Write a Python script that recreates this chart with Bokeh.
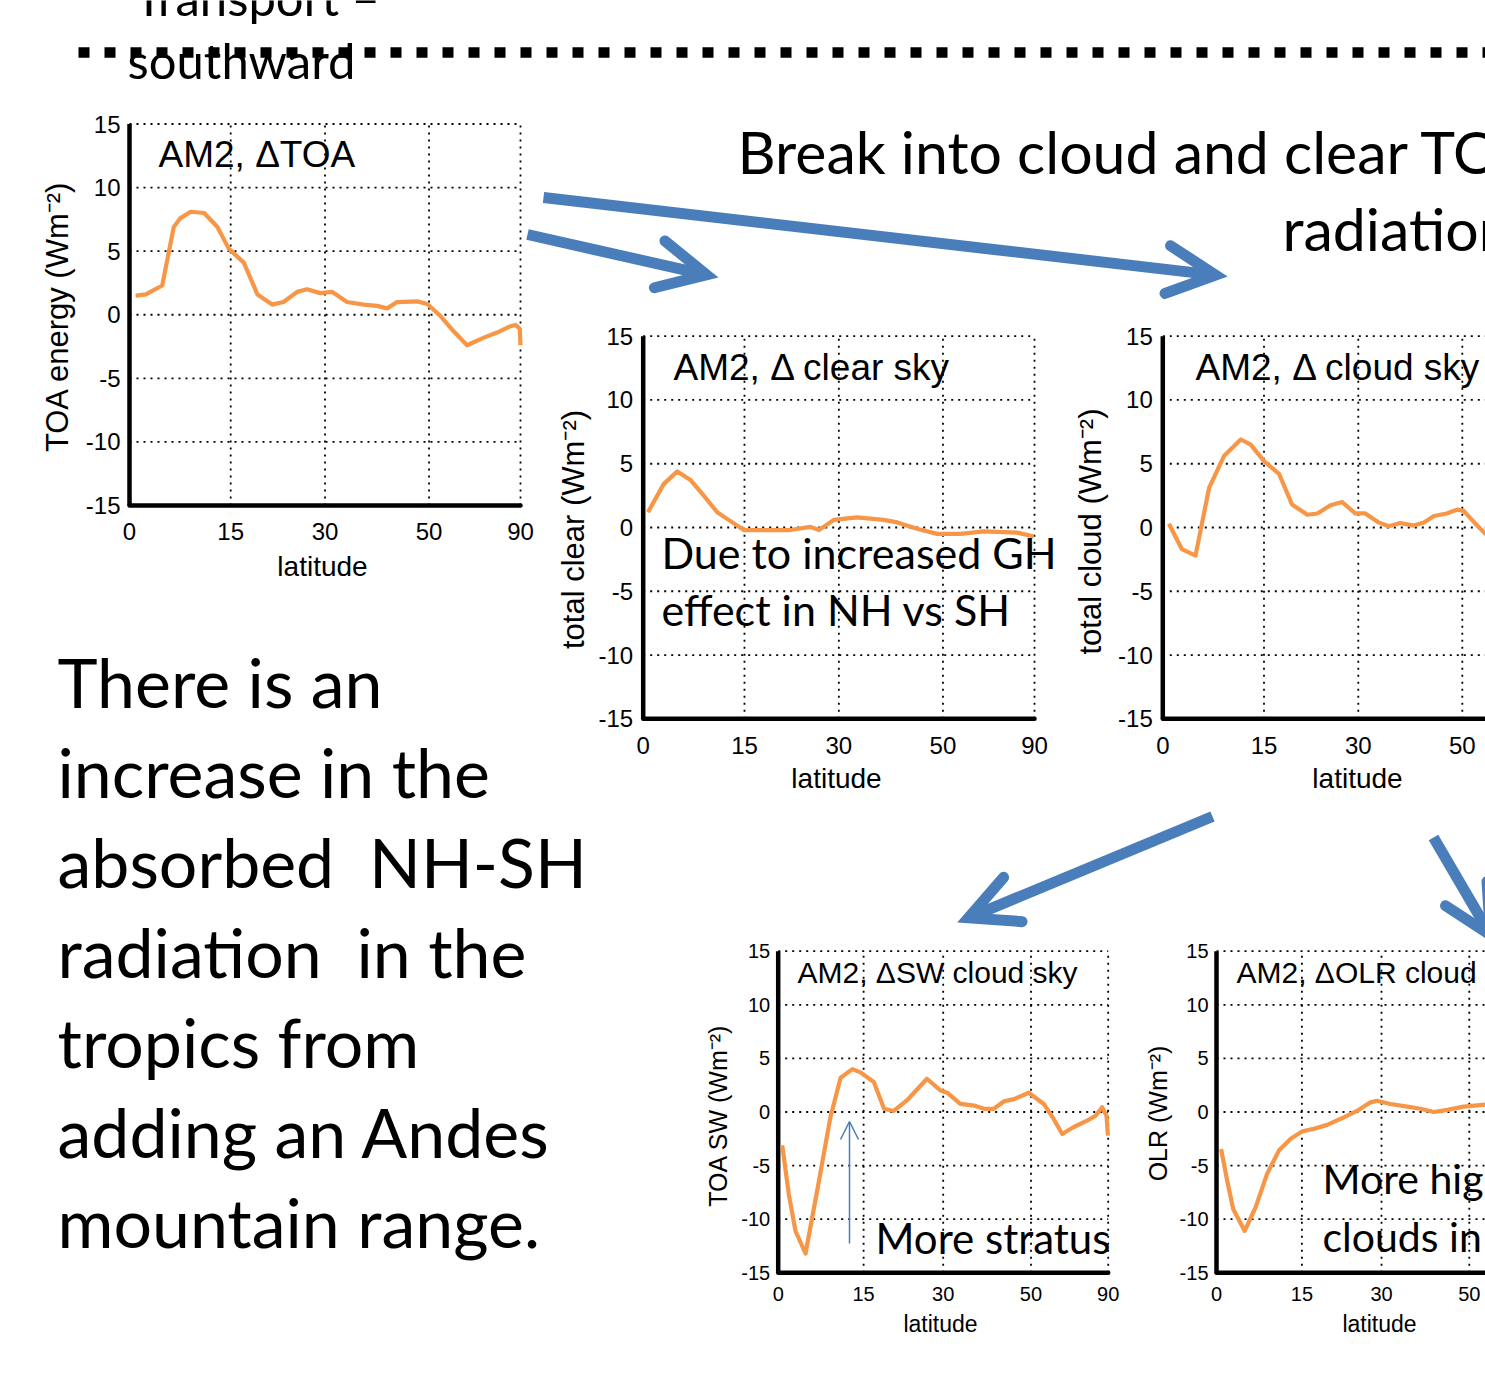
import numpy as np
from bokeh.plotting import figure
from bokeh.models import Range1d, Arrow, OpenHead
from bokeh.core.properties import value
from bokeh.embed import file_html
from bokeh.resources import INLINE

W, H = 1485, 1380

# ---------------- data ----------------
lat_ticks = [0, 15, 30, 50, 90]
lat_tick_labels = ["0", "15", "30", "50", "90"]
val_ticks = [-15, -10, -5, 0, 5, 10, 15]
val_tick_labels = ["-15", "-10", "-5", "0", "5", "10", "15"]

toa_lat = [0.9, 2.4, 4.8, 6.5, 7.5, 9.0, 11.0, 13.0, 14.7, 17.0, 19.1, 21.4, 23.2, 25.4, 27.0, 29.2,
           31.2, 33.8, 36.8, 39.3, 41.2, 43.2, 47.4, 49.6, 52.7, 56.0, 59.7, 65.0, 70.1, 77.0, 80.8,
           86.6, 89.5]
toa_val = [1.5, 1.6, 2.3, 6.9, 7.6, 8.1, 8.0, 6.9, 5.2, 4.1, 1.6, 0.8, 1.0, 1.8, 2.0, 1.7,
           1.8, 1.0, 0.8, 0.7, 0.5, 1.0, 1.05, 0.85, -0.1, -1.3, -2.4, -1.8, -1.4, -0.9, -0.8,
           -1.1, -2.4]

clear_lat = [0.7, 3.0, 5.0, 7.0, 8.9, 10.9, 12.9, 14.9, 18.5, 22.1, 25.3, 26.7, 29.2, 33.1, 37.9,
             40.5, 44.4, 48.7, 54.2, 60.5, 72.9, 86.9]
clear_val = [1.2, 3.4, 4.4, 3.7, 2.5, 1.2, 0.5, -0.2, -0.2, -0.2, 0.05, -0.2, 0.6, 0.8, 0.6,
             0.4, -0.1, -0.5, -0.5, -0.3, -0.4, -0.7]

cloud_lat = [0.9, 2.8, 4.8, 6.8, 9.0, 11.5, 13.0, 15.0, 17.3, 19.3, 21.7, 23.3, 25.4, 27.3, 29.5,
             31.2, 33.5, 35.3, 37.4, 39.9, 41.9, 43.9, 46.6, 48.8, 50.3, 53.1, 55.6, 57.5]
cloud_val = [0.3, -1.7, -2.2, 3.1, 5.6, 6.9, 6.5, 5.2, 4.2, 1.8, 1.0, 1.1, 1.75, 2.0, 1.1,
             1.1, 0.4, 0.1, 0.35, 0.15, 0.4, 0.9, 1.1, 1.4, 1.3, 0.3, -0.5, -0.9]

sw_lat = [0.7, 1.85, 3.0, 4.75, 6.8, 9.1, 10.9, 13.0, 14.45, 16.85, 18.7, 20.5, 23.0, 26.8, 29.5,
          30.8, 33.5, 36.4, 38.6, 40.8, 43.2, 45.6, 49.4, 53.6, 56.6, 59.4, 63.6, 69.4, 74.1,
          79.0, 84.2, 87.5]
sw_val = [-3.1, -7.7, -11.1, -13.2, -7.3, -0.5, 3.2, 4.0, 3.7, 2.8, 0.3, 0.1, 1.1, 3.1, 2.0,
          1.8, 0.75, 0.6, 0.3, 0.3, 1.0, 1.2, 1.8, 0.75, -0.65, -2.05, -1.4, -0.8, -0.35,
          0.45, -0.35, -2.2]

olr_lat = [0.8, 1.85, 2.9, 4.9, 6.8, 8.8, 10.9, 13.0, 15.1, 16.9, 19.6, 22.7, 25.2, 27.8, 29.1,
           31.8, 35.3, 38.2, 41.2, 44.4, 48.5, 54.6]
olr_val = [-3.45, -6.4, -9.05, -11.1, -8.9, -5.8, -3.6, -2.5, -1.8, -1.6, -1.2, -0.5, 0.1, 0.9,
           1.05, 0.75, 0.5, 0.3, 0.0, 0.2, 0.5, 0.7]

left_lines = ["There is an", "increase in the", "absorbed\u00a0 NH-SH", "radiation\u00a0 in the",
              "tropics from", "adding an Andes", "mountain range."]

# ---------------- canvas ----------------
p = figure(width=W, height=H, x_range=Range1d(0, W), y_range=Range1d(H, 0),
           x_axis_type=None, y_axis_type=None, toolbar_location=None,
           output_backend="svg", min_border=0, outline_line_color=None,
           background_fill_color="white", border_fill_color="white")

PANEL_FONT = value("Liberation Sans")
BIG_FONT = value("Lato")
ORANGE = "#f79646"
BLUE = "#4a7ebb"
BASE_SHIFT = 0.42  # renderer places alphabetic baseline ~0.42 em lower; compensate


def yb(baseline, fs):
    return baseline - BASE_SHIFT * fs


def sinlat(a):
    return list(np.sin(np.radians(np.asarray(a, dtype=float))))


panels = [
    dict(name="p1", x0=129.0, top=123.5, w=391.0, h=381.5, lat=toa_lat, val=toa_val,
         title="AM2, \u0394TOA", tpos=(158, 170), tfs=37,
         ylabel="TOA energy (Wm\u207b\u00b2)", ypos=(57, 316), yfs=31,
         xpos=(322, 578), xfs=28, tickfs=24, yoff=-9, xoff=26),
    dict(name="p2", x0=642.7, top=335.7, w=391.3, h=382.6, lat=clear_lat, val=clear_val,
         title="AM2, \u0394 clear sky", tpos=(673, 383), tfs=37,
         ylabel="total clear (Wm\u207b\u00b2)", ypos=(573, 529), yfs=31,
         xpos=(836, 790), xfs=28, tickfs=24, yoff=-10, xoff=27),
    dict(name="p3", x0=1162.3, top=335.7, w=391.0, h=382.6, lat=cloud_lat, val=cloud_val,
         title="AM2, \u0394 cloud sky", tpos=(1195, 383), tfs=37,
         ylabel="total cloud (Wm\u207b\u00b2)", ypos=(1090, 531), yfs=31,
         xpos=(1357, 790), xfs=28, tickfs=24, yoff=-10, xoff=27),
    dict(name="p4", x0=777.7, top=950.7, w=330.0, h=321.6, lat=sw_lat, val=sw_val,
         title="AM2, \u0394SW cloud sky", tpos=(797, 985), tfs=30,
         ylabel="TOA SW (Wm\u207b\u00b2)", ypos=(717, 1115), yfs=25,
         xpos=(940, 1333), xfs=23, tickfs=20, yoff=-8, xoff=21),
    dict(name="p5", x0=1216.0, top=950.7, w=330.0, h=321.6, lat=olr_lat, val=olr_val,
         title="AM2, \u0394OLR cloud sky", tpos=(1236, 985), tfs=30,
         ylabel="OLR (Wm\u207b\u00b2)", ypos=(1157, 1113), yfs=25,
         xpos=(1379, 1333), xfs=23, tickfs=20, yoff=-8, xoff=21),
]

xr, yr = {}, {}
for pn in panels:
    sx = pn["w"] / 1.0
    xs = -pn["x0"] / sx
    xr[pn["name"]] = Range1d(start=xs, end=xs + W / sx)
    sy = pn["h"] / 30.0
    ys = -15 - (H - (pn["top"] + pn["h"])) / sy
    yr[pn["name"]] = Range1d(start=ys, end=ys + H / sy)
p.extra_x_ranges = xr
p.extra_y_ranges = yr

for pn in panels:
    nm = pn["name"]
    kw = dict(x_range_name=nm, y_range_name=nm)
    # dotted grid (horizontal, incl. top box line)
    gy = [v for v in val_ticks if v != -15]
    p.segment(x0=[0] * len(gy), x1=[1] * len(gy), y0=gy, y1=gy,
              line_color="black", line_width=1.8, line_dash="2 5", **kw)
    gx = sinlat([t for t in lat_ticks if t != 0])
    p.segment(x0=gx, x1=gx, y0=[-15] * len(gx), y1=[15] * len(gx),
              line_color="black", line_width=1.8, line_dash="2 5", **kw)
    # solid axes
    p.line(x=[0, 0], y=[-15, 15], line_color="black", line_width=4.5, **kw)
    p.line(x=[0, 1], y=[-15, -15], line_color="black", line_width=4.5, line_cap="round", **kw)
    # tick labels (only those that fall on the slide)
    p.text(x=[0] * len(val_ticks), y=val_ticks, text=val_tick_labels, x_offset=pn["yoff"],
           text_align="right", text_baseline="middle", text_font=PANEL_FONT,
           text_font_size=value(f"{pn['tickfs']}px"), text_color="black", **kw)
    vis = [i for i, t in enumerate(lat_ticks)
           if pn["x0"] + pn["w"] * np.sin(np.radians(t)) < W - 8]
    p.text(x=sinlat([lat_ticks[i] for i in vis]), y=[-15] * len(vis),
           text=[lat_tick_labels[i] for i in vis],
           y_offset=pn["xoff"], text_align="center", text_baseline="middle",
           text_font=PANEL_FONT, text_font_size=value(f"{pn['tickfs']}px"),
           text_color="black", **kw)
    # data curve
    p.line(x=sinlat(pn["lat"]), y=pn["val"], line_color=ORANGE, line_width=4.2,
           line_join="round", **kw)
    # title, axis labels
    p.text(x=[pn["tpos"][0]], y=[yb(pn["tpos"][1], pn["tfs"])], text=[pn["title"]],
           text_align="left", text_baseline="alphabetic", text_font=PANEL_FONT,
           text_font_size=value(f"{pn['tfs']}px"), text_color="black")
    p.text(x=[pn["ypos"][0]], y=[pn["ypos"][1]], text=[pn["ylabel"]], angle=np.pi / 2,
           text_align="center", text_baseline="middle", text_font=PANEL_FONT,
           text_font_size=value(f"{pn['yfs']}px"), text_color="black")
    p.text(x=[pn["xpos"][0]], y=[yb(pn["xpos"][1], pn["xfs"])], text=["latitude"],
           text_align="center", text_baseline="alphabetic", text_font=PANEL_FONT,
           text_font_size=value(f"{pn['xfs']}px"), text_color="black")

# ---------------- slide decorations ----------------
p.line(x=[78, W], y=[52, 52], line_color="black", line_width=10.5, line_dash="11 15")


def big_text(xs, bases, texts, fs):
    p.text(x=xs, y=[yb(b, fs) for b in bases], text=texts, text_font=BIG_FONT,
           text_font_size=value(f"{fs}px"), text_baseline="alphabetic", text_color="black")


big_text([134], [17], ["Transport \u2013"], 49)
big_text([127], [80], ["southward"], 49)
big_text([737], [176], ["Break into cloud and clear TOA"], 59)
big_text([1282], [253], ["radiation"], 59)
big_text([661, 661], [570, 627], ["Due to increased GH", "effect in NH vs SH"], 43)
big_text([875], [1255], ["More stratus"], 42)
big_text([1322, 1322], [1195, 1253], ["More high", "clouds in"], 41)
big_text([57] * len(left_lines), [710 + 90 * i for i in range(len(left_lines))], left_lines, 68)


# ---------------- arrows ----------------
def big_arrow(xs, ys, xe, ye):
    p.add_layout(Arrow(x_start=xs, y_start=ys, x_end=xe, y_end=ye, line_color=BLUE,
                       line_width=11,
                       end=OpenHead(size=48, line_color=BLUE, line_width=11,
                                    line_cap="round", line_join="miter")))


big_arrow(543, 197, 1215, 274.6)
big_arrow(527, 234, 706, 274.4)
big_arrow(1212, 816, 968, 917.4)
big_arrow(1433, 837, 1490, 934.6)

p.add_layout(Arrow(x_start=849, y_start=1243, x_end=849, y_end=1121, line_color=BLUE,
                   line_width=1.5,
                   end=OpenHead(size=18, line_color=BLUE, line_width=1.5)))

open("out.html", "w").write(file_html(p, INLINE))
